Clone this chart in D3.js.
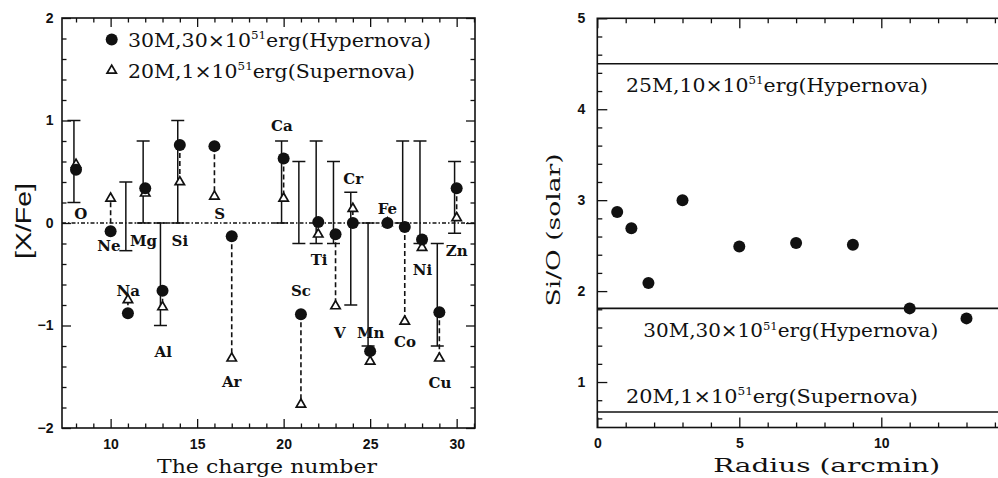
<!DOCTYPE html>
<html><head><meta charset="utf-8">
<script src="https://cdn.jsdelivr.net/npm/d3@7"></script>
<style>body{margin:0;background:#fff}svg{display:block}</style>
</head><body>
<svg id="c" width="998" height="478"></svg>
<script>
// ---------- data: left panel ----------
const elements   = ["O","Ne","Na","Mg","Al","Si","S","Ar","Ca","Sc","Ti","V","Cr","Mn","Fe","Co","Ni","Cu","Zn"];
const charge     = [8,10,11,12,13,14,16,17,20,21,22,23,24,25,26,27,28,29,30];
const hyper30    = [0.52,-0.08,-0.88,0.34,-0.66,0.76,0.75,-0.13,0.63,-0.89,0.01,-0.11,0.0,-1.25,0.0,-0.04,-0.16,-0.87,0.34];
const super20    = [0.57,0.24,-0.75,0.29,-0.82,0.40,0.26,-1.32,0.24,-1.77,-0.11,-0.81,0.14,-1.35,0.0,-0.96,-0.24,-1.32,0.05];
// label anchors (data coords)
const labelZ     = [8.28,9.9,11.02,11.9,13.04,14.0,16.3,17.0,19.9,21.0,22.05,23.25,24.02,25.03,26.0,27.02,28.02,29.03,30.0];
const labelV     = [0.04,-0.27,-0.71,-0.22,-1.31,-0.22,0.04,-1.6,0.9,-0.71,-0.41,-1.12,0.38,-1.12,0.09,-1.21,-0.51,-1.61,-0.32];
// observed ranges
const obsZ       = [8,11,12,13,14,20,21,22,23,24,25,27,28,29,30];
const obsLow     = [0.2,-0.27,0,-1.0,0,0,-0.2,-0.2,-0.2,-0.8,-1.2,0,-0.2,-1.2,-0.1];
const obsHigh    = [1.0,0.4,0.8,0,1.0,0.8,0.6,0.8,0.6,0.3,0,0.8,0.8,-0.2,0.6];
const xTicksL    = [10,15,20,25,30];
const yTicksL    = [-2,-1,0,1,2];
const legendText = [["30M,30×10","51","erg(Hypernova)"],["20M,1×10","51","erg(Supernova)"]];

// ---------- data: right panel ----------
const radius     = [0.7,1.2,1.8,3,5,7,9,11,13];
const siO        = [2.87,2.69,2.09,3.0,2.49,2.53,2.51,1.81,1.70];
const modelSiO   = [4.5,1.81,0.67];
const modelText  = [["25M,10×10","51","erg(Hypernova)"],["30M,30×10","51","erg(Hypernova)"],["20M,1×10","51","erg(Supernova)"]];
const modelLabR  = [1.01,1.62,1.01];
const modelLabV  = [4.19,1.49,0.77];
const xTicksR    = [0,5,10];
const yTicksR    = [1,2,3,4,5];

const ink = "#111";
const serif = "'DejaVu Serif', serif";
const sans = "'Liberation Sans', Arial, sans-serif";
const svg = d3.select("#c");

function axes(x, y, xMajor, xMinor, yMajor, yMinor, tMaj, tMin, padX, padY) {
  const [xa, xb] = x.range(), [ya, yb] = y.range();
  const put = (axis, tx, ty) => {
    const g = svg.append("g").attr("transform", `translate(${tx},${ty})`).call(axis);
    g.select(".domain").remove();
    g.selectAll("line").attr("stroke", ink).attr("stroke-width", 1.3);
    g.selectAll("text").attr("fill", ink).attr("font-family", sans)
      .attr("font-size", 14).attr("font-weight", "bold");
    return g;
  };
  const fmt = d3.format("d");
  put(d3.axisBottom(x).tickValues(xMinor).tickSize(-tMin).tickFormat(""), 0, ya);
  put(d3.axisBottom(x).tickValues(xMajor).tickSize(-tMaj).tickPadding(padX).tickFormat(fmt), 0, ya);
  put(d3.axisTop(x).tickValues(xMinor).tickSize(-tMin).tickFormat(""), 0, yb);
  put(d3.axisTop(x).tickValues(xMajor).tickSize(-tMaj).tickFormat(""), 0, yb);
  put(d3.axisLeft(y).tickValues(yMinor).tickSize(-tMin).tickFormat(""), xa, 0);
  put(d3.axisLeft(y).tickValues(yMajor).tickSize(-tMaj).tickPadding(padY).tickFormat(fmt), xa, 0);
  put(d3.axisRight(y).tickValues(yMinor).tickSize(-tMin).tickFormat(""), xb, 0);
  put(d3.axisRight(y).tickValues(yMajor).tickSize(-tMaj).tickFormat(""), xb, 0);
  svg.append("rect").attr("x", xa).attr("y", yb).attr("width", xb - xa).attr("height", ya - yb)
    .attr("fill", "none").attr("stroke", ink).attr("stroke-width", 1.6);
}

function supText(x, y, parts, size, width) {
  const t = svg.append("text").attr("x", x).attr("y", y).attr("fill", ink)
    .attr("font-family", serif).attr("font-size", size);
  t.append("tspan").text(parts[0]);
  t.append("tspan").attr("font-size", size * 0.58).attr("dy", -size * 0.4).text(parts[1]);
  t.append("tspan").attr("dy", size * 0.4).text(parts[2]);
  if (width) t.attr("textLength", width).attr("lengthAdjust", "spacingAndGlyphs");
  return t;
}

// ================= LEFT PANEL =================
const xL = d3.scaleLinear().domain([7.19, 31.06]).range([62, 475]);
const yL = d3.scaleLinear().domain([-2, 2]).range([428, 18]);
const minorRange = (a, b, s, skip) => d3.range(a, b + 1e-9, s).map(v => +v.toFixed(2)).filter(v => !skip.includes(v));

axes(xL, yL, xTicksL, minorRange(8, 31, 1, xTicksL), yTicksL,
     minorRange(-2, 2, 0.2, yTicksL), 9, 4.5, 11, 8.5);

// zero line (dash-dot)
svg.append("line").attr("x1", xL.range()[0]).attr("x2", xL.range()[1])
  .attr("y1", yL(0)).attr("y2", yL(0)).attr("stroke", ink).attr("stroke-width", 1.3)
  .attr("stroke-dasharray", "4,2,1.5,2");

// observed error bars
const barOff = -0.12, cap = 6.5;
obsZ.forEach((z, i) => {
  const bx = xL(z + barOff);
  const g = svg.append("g").attr("stroke", ink).attr("stroke-width", 1.5);
  g.append("line").attr("x1", bx).attr("x2", bx).attr("y1", yL(obsLow[i])).attr("y2", yL(obsHigh[i]));
  [obsLow[i], obsHigh[i]].forEach(v =>
    g.append("line").attr("x1", bx - cap).attr("x2", bx + cap).attr("y1", yL(v)).attr("y2", yL(v)));
});

// dashed connectors
charge.forEach((z, i) => {
  svg.append("line").attr("x1", xL(z)).attr("x2", xL(z))
    .attr("y1", yL(hyper30[i])).attr("y2", yL(super20[i]))
    .attr("stroke", ink).attr("stroke-width", 1.6).attr("stroke-dasharray", "5,3");
});

const tri = d3.symbol().type(d3.symbolTriangle).size(38);
// triangles (supernova) below circles
charge.forEach((z, i) => {
  svg.append("path").attr("d", tri()).attr("transform", `translate(${xL(z)},${yL(super20[i])})`)
    .attr("fill", "#fff").attr("stroke", ink).attr("stroke-width", 1.7);
});
charge.forEach((z, i) => {
  svg.append("circle").attr("cx", xL(z)).attr("cy", yL(hyper30[i])).attr("r", 6).attr("fill", ink);
});

// element labels
elements.forEach((el, i) => {
  svg.append("text").attr("x", xL(labelZ[i])).attr("y", yL(labelV[i]))
    .attr("text-anchor", "middle").attr("font-family", serif).attr("font-size", 15)
    .attr("font-weight", "bold").attr("fill", ink).text(el);
});

// legend
svg.append("circle").attr("cx", 111.7).attr("cy", 39.5).attr("r", 6).attr("fill", ink);
svg.append("path").attr("d", tri()).attr("transform", "translate(111.7,70.5)")
  .attr("fill", "#fff").attr("stroke", ink).attr("stroke-width", 1.7);
supText(128, 47, legendText[0], 19, 303);
supText(128, 78, legendText[1], 19, 287);

// axis titles
svg.append("text").attr("x", 267).attr("y", 473).attr("text-anchor", "middle")
  .attr("font-family", serif).attr("font-size", 19).attr("fill", ink)
  .attr("textLength", 220).attr("lengthAdjust", "spacingAndGlyphs").text("The charge number");
svg.append("text").attr("transform", "translate(31,221) rotate(-90)").attr("text-anchor", "middle")
  .attr("font-family", sans).attr("font-size", 22).attr("fill", ink)
  .attr("textLength", 76).attr("lengthAdjust", "spacingAndGlyphs").text("[X/Fe]");

// ================= RIGHT PANEL =================
const xR = d3.scaleLinear().domain([0, 16]).range([597.3, 597.3 + 16 * 28.4]);
const yR = d3.scaleLinear().domain([0.5, 5]).range([427.5, 18.3]);
axes(xR, yR, xTicksR, minorRange(1, 16, 1, xTicksR), yTicksR,
     minorRange(0.6, 5, 0.2, yTicksR), 10, 5, 11, 12);

modelSiO.forEach((v, i) => {
  svg.append("line").attr("x1", xR.range()[0]).attr("x2", xR.range()[1])
    .attr("y1", yR(v)).attr("y2", yR(v)).attr("stroke", ink).attr("stroke-width", 1.6);
});
const widths = [302, 295, 292];
modelText.forEach((p, i) => supText(xR(modelLabR[i]), yR(modelLabV[i]), p, 19, widths[i]));

radius.forEach((r, i) => {
  svg.append("circle").attr("cx", xR(r)).attr("cy", yR(siO[i])).attr("r", 6).attr("fill", ink);
});

svg.append("text").attr("x", 826.7).attr("y", 472).attr("text-anchor", "middle")
  .attr("font-family", serif).attr("font-size", 19).attr("fill", ink)
  .attr("textLength", 227).attr("lengthAdjust", "spacingAndGlyphs").text("Radius (arcmin)");
svg.append("text").attr("transform", "translate(560,230) rotate(-90)").attr("text-anchor", "middle")
  .attr("font-family", serif).attr("font-size", 18).attr("fill", ink)
  .attr("textLength", 153).attr("lengthAdjust", "spacingAndGlyphs").text("Si/O (solar)");
</script>
</body></html>
